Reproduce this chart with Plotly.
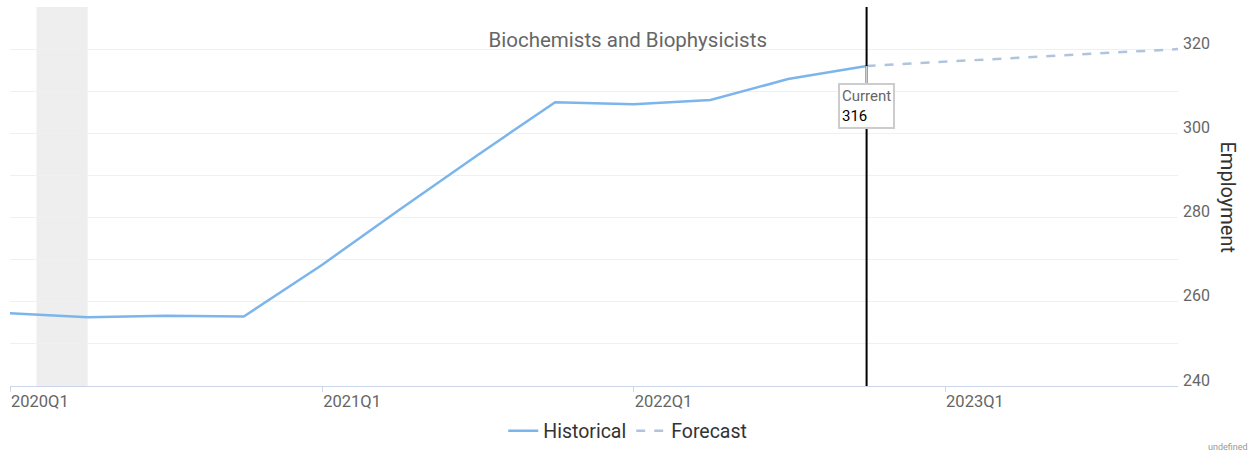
import plotly.graph_objects as go

quarters_hist = ["2020Q1", "2020Q2", "2020Q3", "2020Q4", "2021Q1", "2021Q2",
                 "2021Q3", "2021Q4", "2022Q1", "2022Q2", "2022Q3", "2022Q4"]
values_hist = [257.3, 256.3, 256.7, 256.5, 268.8, 281.8, 294.7, 307.4, 306.9, 307.9, 312.9, 316.0]

quarters_fc = ["2022Q4", "2023Q1", "2023Q2", "2023Q3", "2023Q4"]
values_fc = [316.0, 317.0, 318.0, 319.0, 320.0]

tick_labels = ["2020Q1", "2021Q1", "2022Q1", "2023Q1"]
y_ticks = [240, 250, 260, 270, 280, 290, 300, 310, 320, 330]
y_ticktext = ["240", "", "260", "", "280", "", "300", "", "320", ""]

recession_start = "2020-02-01"
recession_end = "2020-04-01"
current_q = "2022Q4"
current_val = 316

title = "Biochemists and Biophysicists"


def q2d(q):
    y, qq = q.split("Q")
    m = (int(qq) - 1) * 3 + 1
    return f"{y}-{m:02d}-01"


fig = go.Figure()
fig.add_trace(go.Scatter(
    x=[q2d(q) for q in quarters_hist], y=values_hist, mode="lines",
    name="Historical", line=dict(color="#7cb5ec", width=2.5)))
fig.add_trace(go.Scatter(
    x=[q2d(q) for q in quarters_fc], y=values_fc, mode="lines",
    name="Forecast", line=dict(color="#b0c4de", width=2.5, dash="dash")))

fig.add_shape(type="rect", xref="x", yref="paper", x0=recession_start, x1=recession_end,
              y0=0, y1=1, fillcolor="#eeeeee", line=dict(width=0), layer="below")
fig.add_shape(type="line", xref="x", yref="paper", x0=q2d(current_q), x1=q2d(current_q),
              y0=0, y1=1, line=dict(color="black", width=2))

fig.add_annotation(
    x=q2d(current_q), y=current_val, xref="x", yref="y",
    text=f"<span style='color:#666666'>Current</span><br>{current_val}",
    align="left", showarrow=True, arrowhead=0, arrowcolor="#cccccc", arrowwidth=2,
    ax=0, ay=40, bordercolor="#cccccc", borderwidth=2, borderpad=2, bgcolor="white",
    font=dict(family="Roboto", size=15, color="black"))

fig.add_annotation(
    x=1.0, xref="paper", xanchor="left", xshift=36, y=0.5, yref="paper",
    text="Employment", textangle=90, showarrow=False,
    font=dict(family="Roboto", size=20, color="#333333"))

fig.add_annotation(
    x=1.0, y=0, xref="paper", yref="paper", xanchor="right", yanchor="bottom",
    xshift=72, yshift=-68, text="undefined", showarrow=False,
    font=dict(family="Roboto", size=9, color="#999999"))

fig.update_layout(
    width=1253, height=456,
    margin=dict(l=10, r=75, t=7, b=70, autoexpand=False),
    paper_bgcolor="white", plot_bgcolor="white",
    font=dict(family="Roboto", color="#666666"),
    title=dict(text=title, xref="container", x=0.501, xanchor="center",
               yref="container", y=1 - 40 / 456, yanchor="middle",
               font=dict(family="Roboto", size=20.5, color="#666666")),
    legend=dict(orientation="h", xref="container", x=0.501, xanchor="center",
                yref="container", y=1 - 431 / 456, yanchor="middle",
                font=dict(family="Roboto", size=19.5, color="#333333"),
                itemwidth=30, tracegroupgap=0),
    showlegend=True,
)

fig.update_xaxes(
    type="date", range=[q2d("2020Q1"), q2d("2023Q4")],
    tickvals=[q2d(q) for q in tick_labels], ticktext=tick_labels,
    ticks="outside", ticklen=5, tickcolor="#ccd6eb",
    ticklabelposition="outside right",
    showline=True, linecolor="#ccd6eb", linewidth=1,
    showgrid=False, zeroline=False, automargin=False,
    tickfont=dict(family="Roboto", size=16.5, color="#666666"))

fig.update_yaxes(
    side="right", range=[240, 330],
    tickvals=y_ticks, ticktext=y_ticktext,
    showgrid=True, gridcolor="#f0f0f0", gridwidth=1,
    zeroline=False, showline=False, ticks="", automargin=False,
    ticklabelshift=-6, ticklabelstandoff=4,
    tickfont=dict(family="Roboto", size=16, color="#666666"))

fig.write_html("out.html", config={"displayModeBar": False})

# remove the browser's default page margin so the figure sits at the top-left corner
with open("out.html", "r", encoding="utf-8") as f:
    html = f.read()
html = html.replace("<head>", "<head><style>html,body{margin:0;padding:0;overflow:hidden;}</style>", 1)
with open("out.html", "w", encoding="utf-8") as f:
    f.write(html)
